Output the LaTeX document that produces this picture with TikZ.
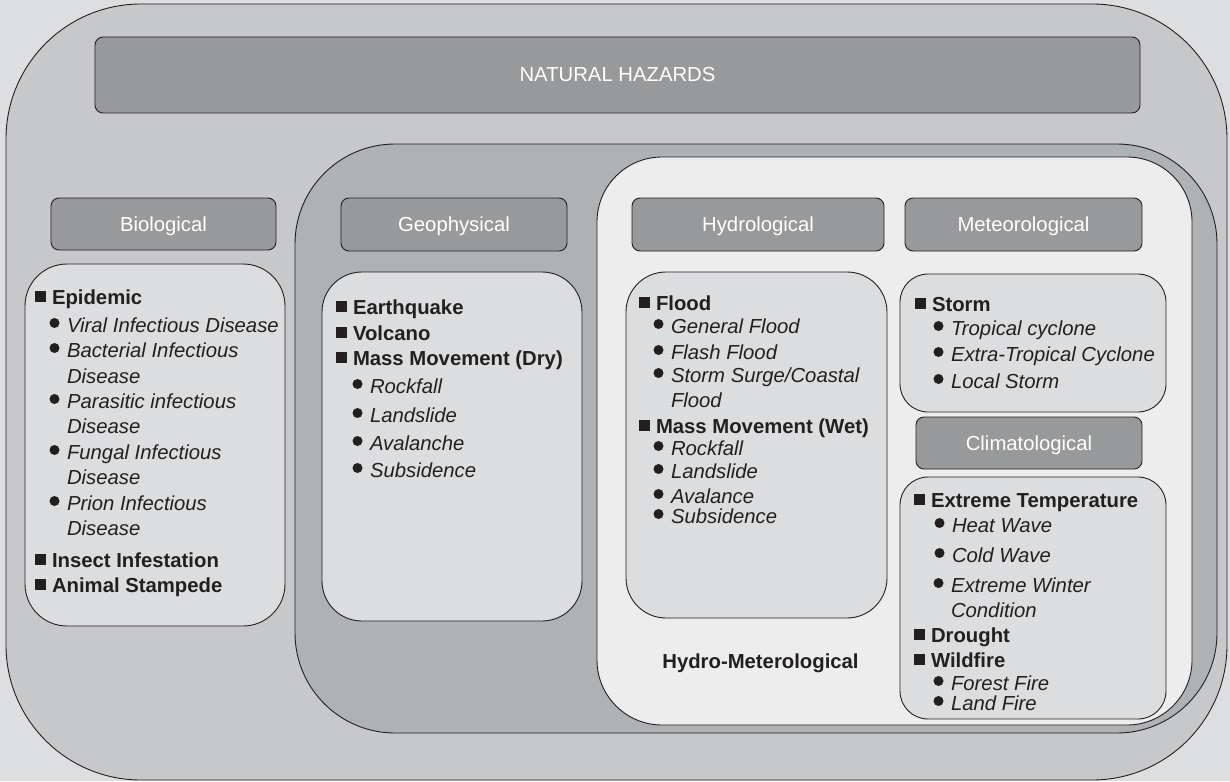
\documentclass[tikz,border=0pt]{standalone}
\usepackage{fontspec}
\setmainfont{Liberation Sans}
\definecolor{bgc}{HTML}{DDDEE0}
\definecolor{outc}{HTML}{C7C8CA}
\definecolor{hdrc}{HTML}{98999B}
\definecolor{geoc}{HTML}{AFB2B4}
\definecolor{hydc}{HTML}{EDEDED}
\definecolor{boxc}{HTML}{DCDDDF}
\definecolor{linec}{HTML}{231F20}
\definecolor{txtc}{HTML}{231F20}
\newcommand\fs{\fontsize{20.3}{24}\selectfont}
\newcommand\hitem[4]{\fill[txtc] (#2-17.5,#3-13.5) rectangle ++(11.5,11.5);
  \node[item,font=\fs\bfseries] (#1) at (#2,#3) {#4};}
\newcommand\sitem[4]{\fill[txtc] (#2-12.5,#3-9) circle (5pt);
  \node[item,font=\fs\itshape] (#1) at (#2,#3) {#4};}
\newcommand\citem[4]{\node[item,font=\fs\itshape] (#1) at (#2,#3) {#4};}
\begin{document}
\begin{tikzpicture}[x=1pt,y=-1pt,
  line/.style={draw=linec,line width=0.9pt},
  region/.style={line,inner sep=0pt,outer sep=0pt},
  hdr/.style={line,fill=hdrc,rounded corners=8pt,text=white,font=\fs,
     inner sep=0pt,text height=14pt,text depth=0pt},
  cbox/.style={line,fill=boxc,inner sep=0pt},
  item/.style={anchor=base west,inner sep=0pt,outer sep=0pt,text=txtc}]
\useasboundingbox (0,0) rectangle (1230,781);
\fill[bgc] (0,0) rectangle (1230,781);
% regions
\node[region,fill=outc,rounded corners=135pt,minimum width=1221pt,minimum height=776pt] (outer) at (616.5,392) {};
\node[hdr,minimum width=1045pt,minimum height=76pt] (nh) at (617.5,75) {NATURAL HAZARDS};
\node[hdr,minimum width=225pt,minimum height=52pt] (bioh) at (163.5,224) {Biological};
\node[cbox,rounded corners=42pt,minimum width=260pt,minimum height=362pt] (bioc) at (155,445) {};
\node[region,fill=geoc,rounded corners=100pt,minimum width=922pt,minimum height=589pt] (geo) at (756,438.5) {};
\node[hdr,minimum width=226pt,minimum height=53pt] (geoh) at (454,224.5) {Geophysical};
\node[cbox,rounded corners=40pt,minimum width=260pt,minimum height=349pt] (geoc) at (452,446.5) {};
\node[region,fill=hydc,rounded corners=65pt,minimum width=595pt,minimum height=568pt] (hyd) at (894.5,441) {};
\node[hdr,minimum width=252pt,minimum height=53pt] (hydh) at (758,224.5) {Hydrological};
\node[cbox,rounded corners=40pt,minimum width=261pt,minimum height=346pt] (hydc) at (756.5,445) {};
\node[hdr,minimum width=237pt,minimum height=53pt] (meth) at (1023.5,224.5) {Meteorological};
\node[cbox,rounded corners=28pt,minimum width=266pt,minimum height=138pt] (metc) at (1033,343) {};
\node[hdr,minimum width=226pt,minimum height=52pt] (clih) at (1029,443) {Climatological};
\node[cbox,rounded corners=28pt,minimum width=266pt,minimum height=242pt] (clic) at (1033,598) {};
% biological
\hitem{b1}{52}{304}{Epidemic}
\sitem{b2}{67}{332}{Viral Infectious Disease}
\sitem{b3}{67}{357}{Bacterial Infectious}
\citem{b3a}{67}{383}{Disease}
\sitem{b4}{67}{408}{Parasitic infectious}
\citem{b4a}{67}{433}{Disease}
\sitem{b5}{67}{459}{Fungal Infectious}
\citem{b5a}{67}{484}{Disease}
\sitem{b6}{67}{510}{Prion Infectious}
\citem{b6a}{67}{535}{Disease}
\hitem{b7}{52}{567}{Insect Infestation}
\hitem{b8}{52}{592}{Animal Stampede}
% geophysical
\hitem{g1}{353}{314}{Earthquake}
\hitem{g2}{353}{340}{Volcano}
\hitem{g3}{353}{365}{Mass Movement (Dry)}
\sitem{g4}{370}{393}{Rockfall}
\sitem{g5}{370}{422}{Landslide}
\sitem{g6}{370}{450}{Avalanche}
\sitem{g7}{370}{477}{Subsidence}
% hydrological
\hitem{h1}{656}{310}{Flood}
\sitem{h2}{671}{333}{General Flood}
\sitem{h3}{671}{359}{Flash Flood}
\sitem{h4}{671}{382}{Storm Surge/Coastal}
\citem{h4a}{671}{407}{Flood}
\hitem{h5}{656}{433}{Mass Movement (Wet)}
\sitem{h6}{671}{455}{Rockfall}
\sitem{h7}{671}{478}{Landslide}
\sitem{h8}{671}{503}{Avalance}
\sitem{h9}{671}{523}{Subsidence}
\node[anchor=base,inner sep=0pt,text=txtc,font=\fs\bfseries] (hm) at (760.5,668) {Hydro-Meterological};
% meteorological
\hitem{m1}{932}{311}{Storm}
\sitem{m2}{951}{335}{Tropical cyclone}
\sitem{m3}{951}{361}{Extra-Tropical Cyclone}
\sitem{m4}{951}{388}{Local Storm}
% climatological
\hitem{c1}{931}{507}{Extreme Temperature}
\sitem{c2}{952}{532}{Heat Wave}
\sitem{c3}{952}{562}{Cold Wave}
\sitem{c4}{951}{592}{Extreme Winter}
\citem{c4a}{951}{617}{Condition}
\hitem{c5}{931}{642}{Drought}
\hitem{c6}{931}{667}{Wildfire}
\sitem{c7}{951}{690}{Forest Fire}
\sitem{c8}{951}{710}{Land Fire}
\end{tikzpicture}
\end{document}
